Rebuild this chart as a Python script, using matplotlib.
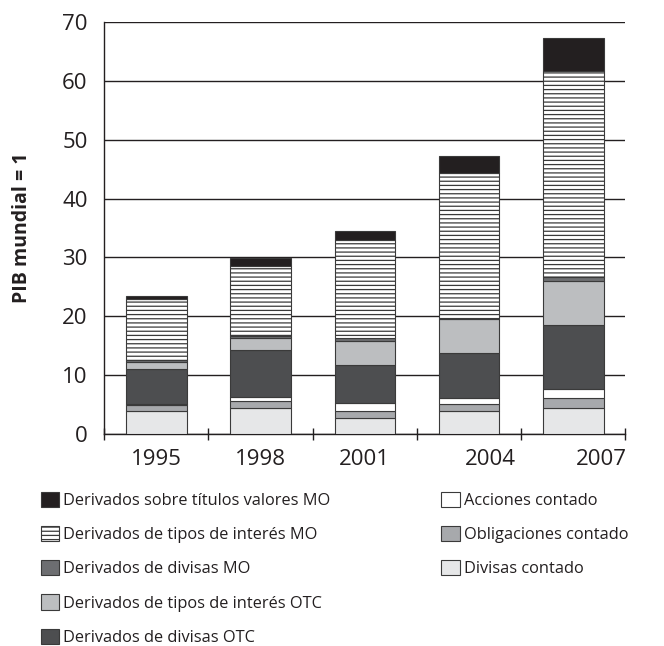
import numpy as np
import matplotlib
matplotlib.use("Agg")
import matplotlib.pyplot as plt
from matplotlib.patches import Patch

plt.rcParams['font.family'] = ['Open Sans', 'DejaVu Sans']
plt.rcParams['hatch.linewidth'] = 0.9

# ─────────────────────────────────────────────
# Data
# ─────────────────────────────────────────────
years = ["1995", "1998", "2001", "2004", "2007"]

divisas_contado      = [4.0, 4.5, 2.8, 4.0, 4.5]
obligaciones_contado = [0.9, 1.2, 1.2, 1.1, 1.7]
acciones_contado     = [0.2, 0.65, 1.2, 1.0, 1.5]
divisas_otc          = [5.9, 7.95, 6.6, 7.6, 10.8]
tipos_otc            = [1.2, 2.0, 4.0, 5.8, 7.5]
divisas_mo           = [0.4, 0.4, 0.5, 0.2, 0.7]
tipos_mo             = [10.4, 11.8, 16.7, 24.6, 35.0]
titulos_mo           = [0.5, 1.4, 1.5, 3.0, 5.6]

# bottom-to-top stacking order
series = [
    ("Divisas contado",                   divisas_contado,      "#e6e7e8", None),
    ("Obligaciones contado",              obligaciones_contado, "#a7a9ac", None),
    ("Acciones contado",                  acciones_contado,     "#ffffff", None),
    ("Derivados de divisas OTC",          divisas_otc,          "#4d4e50", None),
    ("Derivados de tipos de interés OTC", tipos_otc,            "#bcbec0", None),
    ("Derivados de divisas MO",           divisas_mo,           "#6d6e71", None),
    ("Derivados de tipos de interés MO",  tipos_mo,             "#ffffff", "----"),
    ("Derivados sobre títulos valores MO", titulos_mo,          "#231f20", None),
]

fig = plt.figure(figsize=(6.64, 6.46), dpi=100)
ax = fig.add_axes([0.157, 0.328, 0.785, 0.638])

x = np.arange(len(years))
bottom = np.zeros(len(years))
handles = {}
for label, vals, color, hatch in series:
    vals = np.array(vals)
    ax.bar(x, vals, width=0.58, bottom=bottom, color=color,
           edgecolor="#3a3a3a", linewidth=0.8, hatch=hatch, zorder=3)
    handles[label] = Patch(facecolor=color, edgecolor="#3a3a3a",
                           linewidth=0.8, hatch=hatch)
    bottom += vals

ax.set_ylim(0, 70)
ax.set_xlim(-0.5, len(years) - 0.5)
ax.set_yticks(np.arange(0, 71, 10))
ax.yaxis.grid(True, color="#231f20", linewidth=1.0, zorder=0)
ax.set_axisbelow(True)
for s in ["top", "right"]:
    ax.spines[s].set_visible(False)
for s in ["left", "bottom"]:
    ax.spines[s].set_color("#231f20")
    ax.spines[s].set_linewidth(1.0)

# boundaries get tick marks, labels sit slightly off-center like the original
label_shift = [0.0, 0.0, 0.0, 0.2, 0.27]
ax.set_xticks(x + np.array(label_shift), labels=years)
ax.set_xticks(np.arange(-0.5, len(years)), minor=True)
ax.tick_params(axis="x", which="major", length=0, pad=11, labelsize=16,
               labelcolor="#231f20")
ax.tick_params(axis="x", which="minor", length=8, width=1.0,
               direction="inout", color="#231f20")
ax.tick_params(axis="y", length=0, pad=12, labelsize=16, labelcolor="#231f20")

ax.set_ylabel("PIB mundial = 1", fontsize=14, fontweight="bold",
              labelpad=22, color="#231f20")

left_names = ["Derivados sobre títulos valores MO",
              "Derivados de tipos de interés MO",
              "Derivados de divisas MO",
              "Derivados de tipos de interés OTC",
              "Derivados de divisas OTC"]
right_names = ["Acciones contado", "Obligaciones contado", "Divisas contado"]

leg_kw = dict(frameon=False, fontsize=11.8, handlelength=1.1,
              handleheight=1.05, handletextpad=0.25, labelspacing=1.04,
              labelcolor="#231f20", borderaxespad=0)
fig.legend([handles[n] for n in left_names], left_names,
           loc="upper left", bbox_to_anchor=(0.052, 0.249), **leg_kw)
fig.legend([handles[n] for n in right_names], right_names,
           loc="upper left", bbox_to_anchor=(0.655, 0.249), **leg_kw)

fig.savefig("out.png", dpi=100)
